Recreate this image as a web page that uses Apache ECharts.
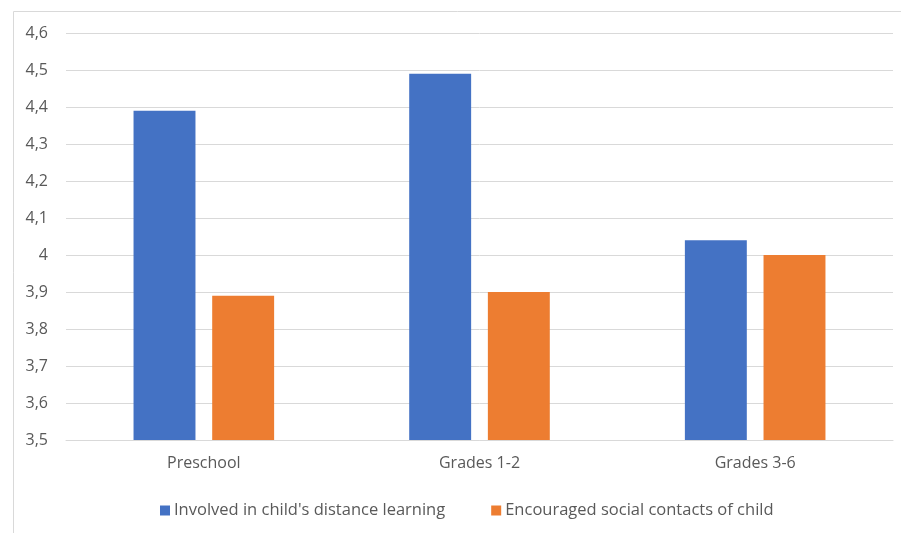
<!DOCTYPE html>
<html><head><meta charset="utf-8">
<script src="https://cdn.jsdelivr.net/npm/echarts@6/dist/echarts.min.js"></script>
<style>html,body{margin:0;padding:0;background:#fff}#c{width:901px;height:533px}</style>
</head><body><div id="c"></div>
<script>
const categories = ['Preschool', 'Grades 1-2', 'Grades 3-6'];
const seriesNames = ["Involved in child's distance learning", 'Encouraged social contacts of child'];
const involved = [4.39, 4.49, 4.04];
const encouraged = [3.89, 3.90, 4.00];
const colors = ['#4472C4', '#ED7D31'];

const chart = echarts.init(document.getElementById('c'));
const font = 'Open Sans';
chart.setOption({
  animation: false,
  textStyle: { fontFamily: font },
  graphic: [{
    type: 'rect', left: 11, top: 9,
    shape: { width: 1000, height: 1000 },
    style: { fill: 'none', stroke: '#D9D9D9', lineWidth: 1 },
    silent: true, z: -1
  }],
  grid: { left: 66, right: 8, top: 33, bottom: 93, containLabel: false },
  legend: {
    top: 497, left: 155, itemWidth: 10, itemHeight: 10, itemGap: 46,
    icon: 'rect',
    textStyle: { color: '#595959', fontSize: 16.5, fontFamily: font, padding: [0, 0, 0, -1] }
  },
  xAxis: {
    type: 'category', data: categories,
    axisLine: { lineStyle: { color: '#D9D9D9' } },
    axisTick: { show: false },
    axisLabel: { color: '#595959', fontSize: 16, margin: 15 }
  },
  yAxis: {
    type: 'value', min: 3.5, max: 4.6, interval: 0.1,
    axisLine: { show: false }, axisTick: { show: false },
    splitLine: { lineStyle: { color: '#D9D9D9' } },
    axisLabel: {
      color: '#595959', fontSize: 16, margin: 18,
      formatter: v => String(Math.round(v * 10) / 10).replace('.', ',')
    }
  },
  series: [
    { name: seriesNames[0], type: 'bar', data: involved, itemStyle: { color: colors[0] }, barGap: '27%', barCategoryGap: '49%' },
    { name: seriesNames[1], type: 'bar', data: encouraged, itemStyle: { color: colors[1] }, barGap: '27%', barCategoryGap: '49%' }
  ]
});
</script></body></html>
